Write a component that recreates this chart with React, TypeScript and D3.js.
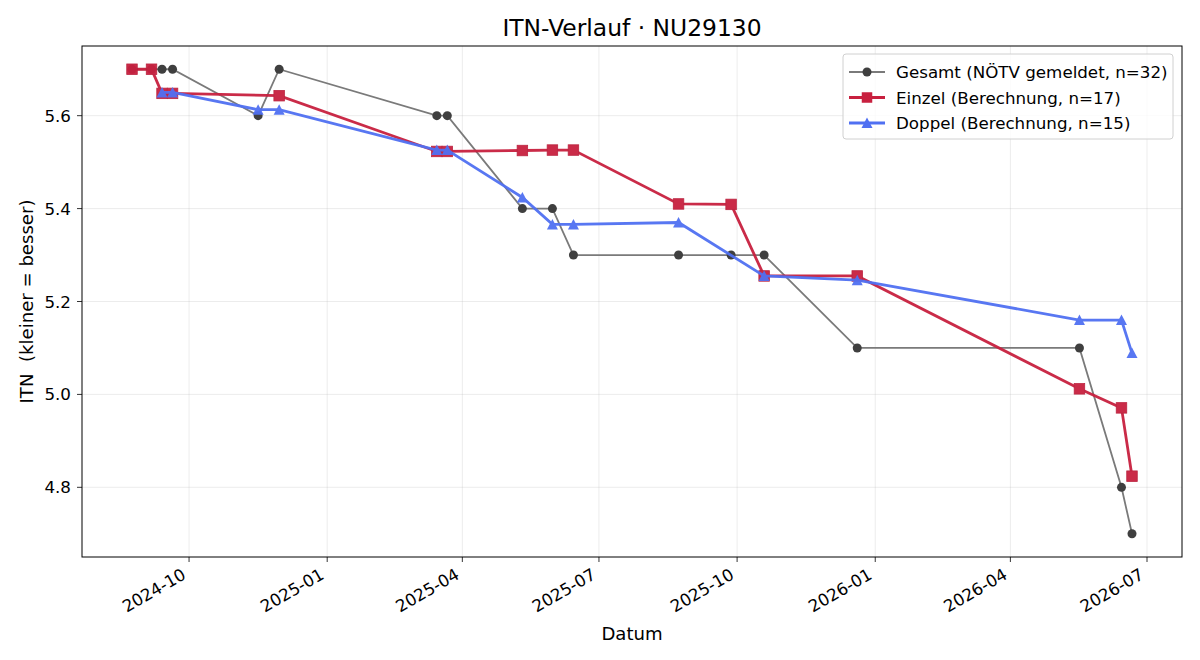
import React, { useEffect, useRef } from 'react';
import * as d3 from 'd3';

// match dates
const gesamtDates = ['2024-08-24', '2024-09-06', '2024-09-13', '2024-09-20', '2024-11-16', '2024-11-30', '2025-03-15', '2025-03-22', '2025-05-11', '2025-05-31', '2025-06-14', '2025-08-23', '2025-09-27', '2025-10-19', '2025-12-20', '2026-05-17', '2026-06-14', '2026-06-21'];
const gesamtValues = [5.7, 5.7, 5.7, 5.7, 5.6, 5.7, 5.6, 5.6, 5.4, 5.4, 5.3, 5.3, 5.3, 5.3, 5.1, 5.1, 4.8, 4.7];

const einzelDates = ['2024-08-24', '2024-09-06', '2024-09-13', '2024-09-20', '2024-11-30', '2025-03-15', '2025-03-22', '2025-05-11', '2025-05-31', '2025-06-14', '2025-08-23', '2025-09-27', '2025-10-19', '2025-12-20', '2026-05-17', '2026-06-14', '2026-06-21'];
const einzelValues = [5.7, 5.7, 5.648, 5.648, 5.643, 5.523, 5.523, 5.525, 5.526, 5.526, 5.41, 5.409, 5.255, 5.255, 5.012, 4.971, 4.824];

const doppelDates = ['2024-09-13', '2024-09-20', '2024-11-16', '2024-11-30', '2025-03-15', '2025-03-22', '2025-05-11', '2025-05-31', '2025-06-14', '2025-08-23', '2025-10-19', '2025-12-20', '2026-05-17', '2026-06-14', '2026-06-21'];
const doppelValues = [5.65, 5.65, 5.613, 5.613, 5.526, 5.526, 5.424, 5.366, 5.366, 5.37, 5.255, 5.246, 5.16, 5.16, 5.089];

const yTicks = [4.8, 5.0, 5.2, 5.4, 5.6];
const legendLabels = ['Gesamt (NÖTV gemeldet, n=32)', 'Einzel (Berechnung, n=17)', 'Doppel (Berechnung, n=15)'];

const FONT = '"DejaVu Sans", sans-serif';

const App: React.FC = () => {
  const ref = useRef<SVGSVGElement | null>(null);
  const width = 1200;
  const height = 660;
  const margin = { top: 46, right: 18, bottom: 103, left: 82 };

  useEffect(() => {
    if (!ref.current) return;
    const svg = d3.select(ref.current);
    svg.selectAll('*').remove();

    const parse = d3.timeParse('%Y-%m-%d');
    const toPts = (dates: string[], vals: number[]) => dates.map((d, i) => ({ date: parse(d)!, v: vals[i] }));
    const gesamt = toPts(gesamtDates, gesamtValues);
    const einzel = toPts(einzelDates, einzelValues);
    const doppel = toPts(doppelDates, doppelValues);

    const all = [...gesamt, ...einzel, ...doppel];
    const [tMin, tMax] = d3.extent(all, d => +d.date) as [number, number];
    const [vMin, vMax] = d3.extent(all, d => d.v) as [number, number];
    const tPad = (tMax - tMin) * 0.05;
    const vPad = (vMax - vMin) * 0.05;

    const x = d3.scaleTime()
      .domain([new Date(tMin - tPad), new Date(tMax + tPad)])
      .range([margin.left, width - margin.right]);
    const y = d3.scaleLinear()
      .domain([vMin - vPad, vMax + vPad])
      .range([height - margin.bottom, margin.top]);

    const x0 = margin.left, x1 = width - margin.right;
    const y0 = margin.top, y1 = height - margin.bottom;

    const xTicks = x.ticks(d3.timeMonth.every(3)!);
    const fmt = d3.timeFormat('%Y-%m');

    // grid
    const grid = svg.append('g').attr('stroke', '#b0b0b0').attr('stroke-opacity', 0.3).attr('stroke-width', 0.8);
    grid.selectAll('line.gx').data(xTicks).join('line')
      .attr('x1', d => x(d)).attr('x2', d => x(d)).attr('y1', y0).attr('y2', y1);
    grid.selectAll('line.gy').data(yTicks).join('line')
      .attr('x1', x0).attr('x2', x1).attr('y1', d => y(d)).attr('y2', d => y(d));

    const plot = svg.append('g');
    const line = d3.line<{ date: Date; v: number }>().x(d => x(d.date)).y(d => y(d.v));

    // Gesamt
    const g1 = plot.append('g');
    g1.append('path').datum(gesamt).attr('d', line).attr('fill', 'none')
      .attr('stroke', '#7a7a7a').attr('stroke-width', 1.8);
    g1.selectAll('circle').data(gesamt).join('circle')
      .attr('cx', d => x(d.date)).attr('cy', d => y(d.v)).attr('r', 4.5)
      .attr('fill', '#3f3f3f');

    // Einzel
    const red = '#c8203f';
    const g2 = plot.append('g').attr('opacity', 0.95);
    g2.append('path').datum(einzel).attr('d', line).attr('fill', 'none')
      .attr('stroke', red).attr('stroke-width', 2.8);
    g2.selectAll('rect').data(einzel).join('rect')
      .attr('x', d => x(d.date) - 5.25).attr('y', d => y(d.v) - 5.25)
      .attr('width', 10.5).attr('height', 10.5)
      .attr('fill', red).attr('stroke', '#b81a37').attr('stroke-width', 0.8);

    // Doppel
    const blue = '#5070f2';
    const tri = (cx: number, cy: number) => `M${cx},${cy - 5.5}L${cx - 5.5},${cy + 5}L${cx + 5.5},${cy + 5}Z`;
    const g3 = plot.append('g').attr('opacity', 0.95);
    g3.append('path').datum(doppel).attr('d', line).attr('fill', 'none')
      .attr('stroke', blue).attr('stroke-width', 2.8);
    g3.selectAll('path.m').data(doppel).join('path')
      .attr('class', 'm')
      .attr('d', d => tri(x(d.date), y(d.v)))
      .attr('fill', blue);

    // frame
    svg.append('rect').attr('x', x0).attr('y', y0).attr('width', x1 - x0).attr('height', y1 - y0)
      .attr('fill', 'none').attr('stroke', '#000').attr('stroke-width', 1);

    // x ticks
    const xa = svg.append('g');
    xa.selectAll('line').data(xTicks).join('line')
      .attr('x1', d => x(d)).attr('x2', d => x(d)).attr('y1', y1).attr('y2', y1 + 5)
      .attr('stroke', '#000').attr('stroke-width', 0.8);
    xa.selectAll('text').data(xTicks).join('text')
      .attr('transform', d => `translate(${x(d) - 2},${y1 + 21}) rotate(-30)`)
      .attr('text-anchor', 'end')
      .attr('font-family', FONT).attr('font-size', 16.7).attr('fill', '#000')
      .text(d => fmt(d));

    // y ticks
    const ya = svg.append('g');
    ya.selectAll('line').data(yTicks).join('line')
      .attr('x1', x0 - 5).attr('x2', x0).attr('y1', d => y(d)).attr('y2', d => y(d))
      .attr('stroke', '#000').attr('stroke-width', 0.8);
    ya.selectAll('text').data(yTicks).join('text')
      .attr('x', x0 - 11).attr('y', d => y(d)).attr('dy', '0.36em')
      .attr('text-anchor', 'end')
      .attr('font-family', FONT).attr('font-size', 16.7).attr('fill', '#000')
      .text(d => d.toFixed(1));

    // labels
    svg.append('text').attr('x', (x0 + x1) / 2).attr('y', 36).attr('text-anchor', 'middle')
      .attr('font-family', FONT).attr('font-size', 23.4).attr('fill', '#000')
      .text('ITN-Verlauf · NU29130');
    svg.append('text').attr('x', (x0 + x1) / 2).attr('y', 640).attr('text-anchor', 'middle')
      .attr('font-family', FONT).attr('font-size', 18.1).attr('fill', '#000')
      .text('Datum');
    svg.append('text').attr('transform', `translate(33,${(y0 + y1) / 2}) rotate(-90)`)
      .attr('text-anchor', 'middle')
      .attr('font-family', FONT).attr('font-size', 18.1).attr('fill', '#000')
      .text('ITN\u00a0 (kleiner = besser)');

    // legend
    const lg = svg.append('g').attr('transform', 'translate(843,54)');
    lg.append('rect').attr('width', 330).attr('height', 85).attr('rx', 3)
      .attr('fill', '#fff').attr('fill-opacity', 0.8).attr('stroke', '#d0d0d0');
    const styles = [
      { color: '#7a7a7a', w: 1.8, mark: 'c' },
      { color: red, w: 2.8, mark: 's' },
      { color: blue, w: 2.8, mark: 't' },
    ];
    legendLabels.forEach((lab, i) => {
      const cy = 18 + i * 25.5;
      const s = styles[i];
      lg.append('line').attr('x1', 6).attr('x2', 42).attr('y1', cy).attr('y2', cy)
        .attr('stroke', s.color).attr('stroke-width', s.w);
      if (s.mark === 'c') lg.append('circle').attr('cx', 24).attr('cy', cy).attr('r', 4.5).attr('fill', '#3f3f3f');
      if (s.mark === 's') lg.append('rect').attr('x', 18.75).attr('y', cy - 5.25).attr('width', 10.5).attr('height', 10.5).attr('fill', red);
      if (s.mark === 't') lg.append('path').attr('d', tri(24, cy)).attr('fill', blue);
      lg.append('text').attr('x', 53).attr('y', cy).attr('dy', '0.36em')
        .attr('font-family', FONT).attr('font-size', 16.7).attr('fill', '#000')
        .text(lab);
    });
  }, []);

  return <svg ref={ref} width={width} height={height} style={{ display: 'block', margin: -8 }} />;
};

export default App;
